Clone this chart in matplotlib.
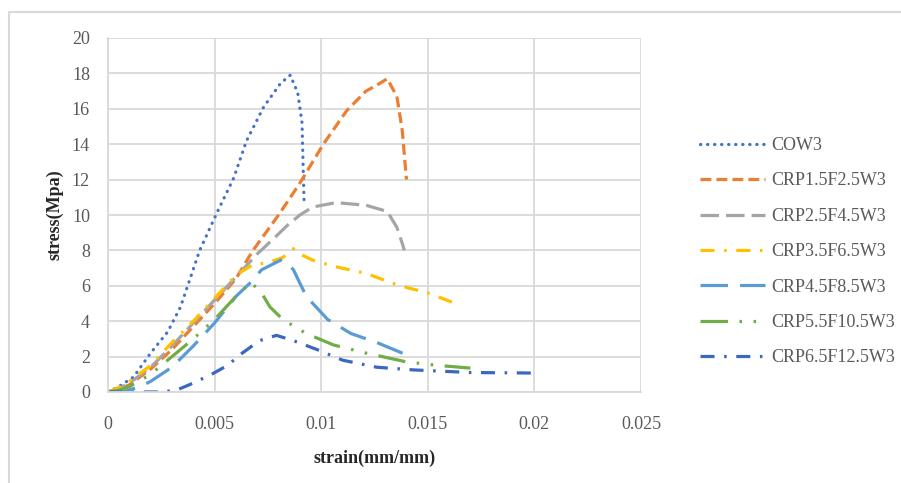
import matplotlib
matplotlib.use("Agg")
import matplotlib.pyplot as plt
from matplotlib.lines import Line2D

labels = ["COW3", "CRP1.5F2.5W3", "CRP2.5F4.5W3", "CRP3.5F6.5W3",
          "CRP4.5F8.5W3", "CRP5.5F10.5W3", "CRP6.5F12.5W3"]

cow3_x = [0, 0.0005, 0.0012, 0.002, 0.0028, 0.0034, 0.0043, 0.0051, 0.0059, 0.0065,
          0.0073, 0.0081, 0.00855, 0.0089, 0.0091, 0.00915, 0.0092]
cow3_y = [0, 0.3, 0.85, 2.2, 3.4, 4.8, 8.0, 10.1, 12.1, 14.2,
          16.1, 17.45, 17.9, 16.9, 15.2, 12.9, 10.6]

crp1_x = [0, 0.0005, 0.001, 0.002, 0.003, 0.004, 0.005, 0.006, 0.0068, 0.008, 0.009,
          0.0101, 0.0112, 0.0121, 0.0127, 0.0131, 0.01355, 0.0138, 0.014]
crp1_y = [0, 0.15, 0.4, 1.3, 2.4, 3.7, 5.0, 6.4, 8.0, 10.0, 11.8,
          14.0, 15.9, 17.0, 17.4, 17.7, 16.7, 14.8, 12.0]

crp2_x = [0, 0.0005, 0.001, 0.002, 0.003, 0.004, 0.005, 0.006, 0.007, 0.0078, 0.0084,
          0.009, 0.0096, 0.0107, 0.0121, 0.0131, 0.01355, 0.0138, 0.0139]
crp2_y = [0, 0.2, 0.5, 1.4, 2.6, 3.9, 5.2, 6.5, 7.8, 8.7, 9.4,
          10.0, 10.45, 10.7, 10.55, 10.2, 9.3, 8.4, 8.0]

crp3_x = [0, 0.0005, 0.001, 0.002, 0.003, 0.004, 0.005, 0.006, 0.0068, 0.0075, 0.0082,
          0.0087, 0.009, 0.0096, 0.0106, 0.0121, 0.0137, 0.015, 0.0163]
crp3_y = [0, 0.25, 0.6, 1.5, 2.8, 4.0, 5.3, 6.6, 7.2, 7.3, 7.6,
          8.1, 7.8, 7.45, 7.1, 6.7, 6.0, 5.6, 5.0]

crp4_x = [0, 0.0008, 0.0015, 0.002, 0.003, 0.004, 0.005, 0.006, 0.0067, 0.0072, 0.0081,
          0.0084, 0.0087, 0.0093, 0.0103, 0.0114, 0.0126, 0.0138, 0.0141]
crp4_y = [0, 0.05, 0.3, 0.6, 1.4, 2.6, 3.9, 5.4, 6.2, 6.9, 7.45,
          7.3, 6.9, 5.4, 4.1, 3.3, 2.8, 2.2, 2.05]

crp5_x = [0, 0.0005, 0.001, 0.002, 0.003, 0.004, 0.005, 0.006, 0.0067, 0.0072, 0.0076,
          0.0082, 0.0093, 0.0106, 0.0121, 0.014, 0.0155, 0.017]
crp5_y = [0, 0.1, 0.3, 1.0, 2.0, 3.0, 4.1, 5.4, 6.2, 5.6, 4.8,
          4.1, 3.3, 2.65, 2.2, 1.7, 1.5, 1.35]

crp6_x = [0, 0.001, 0.0018, 0.0025, 0.0032, 0.0038, 0.0048, 0.0056, 0.0063, 0.0071,
          0.0079, 0.0087, 0.0098, 0.011, 0.0126, 0.0143, 0.017, 0.0201]
crp6_y = [0, 0, 0, 0, 0.1, 0.4, 0.96, 1.5, 2.2, 2.9,
          3.2, 2.9, 2.4, 1.8, 1.4, 1.25, 1.1, 1.07]

x_ticks = [0, 0.005, 0.01, 0.015, 0.02, 0.025]
x_tick_labels = ["0", "0.005", "0.01", "0.015", "0.02", "0.025"]
y_ticks = [0, 2, 4, 6, 8, 10, 12, 14, 16, 18, 20]

series = [(cow3_x, cow3_y), (crp1_x, crp1_y), (crp2_x, crp2_y), (crp3_x, crp3_y),
          (crp4_x, crp4_y), (crp5_x, crp5_y), (crp6_x, crp6_y)]
colors = ["#4472C4", "#ED7D31", "#A5A5A5", "#FFC000", "#5B9BD5", "#70AD47", "#3A68C0"]
dashes = [(0.1, 2.1), (3.4, 1.6), (5.8, 2.2), (4.4, 3.0, 0.8, 3.0),
          (8.6, 3.8), (8.6, 3.6, 0.8, 3.6, 0.8, 3.6), (4.4, 3.0, 0.8, 3.0)]
caps = ["round", "butt", "butt", "butt", "butt", "butt", "butt"]

FONT = "Liberation Serif"
GRAY = "#595959"

fig = plt.figure(figsize=(9.01, 4.83), dpi=100)
ax = fig.add_axes([108/901, 1-392/483, (641-108)/901, (392-38)/483])

for (xs, ys), c, d, cap, lab in zip(series, colors, dashes, caps, labels):
    ax.plot(xs, ys, color=c, lw=2.3, linestyle=(0, d), dash_capstyle=cap, label=lab)

ax.set_xlim(0, 0.025)
ax.set_ylim(0, 20)
ax.set_xticks(x_ticks)
ax.set_xticklabels(x_tick_labels)
ax.set_yticks(y_ticks)
ax.grid(True, color="#D9D9D9", lw=1.3)
ax.set_axisbelow(True)
for s in ["top", "right"]:
    ax.spines[s].set_visible(False)
for s in ["left", "bottom"]:
    ax.spines[s].set_color("#D9D9D9")
    ax.spines[s].set_linewidth(1.3)
ax.tick_params(length=0, labelcolor=GRAY, labelsize=13)
ax.tick_params(axis="x", pad=17)
ax.tick_params(axis="y", pad=13)
for t in ax.get_xticklabels() + ax.get_yticklabels():
    t.set_fontfamily(FONT)

ax.set_xlabel("strain(mm/mm)", fontfamily=FONT, fontweight="bold", fontsize=13,
              color="#262626", labelpad=12)
ax.set_ylabel("stress(Mpa)", fontfamily=FONT, fontweight="bold", fontsize=13,
              color="#262626", labelpad=6)

leg = fig.legend(loc="upper left", bbox_to_anchor=(700/901, 1-137/483),
                 frameon=False, prop={"family": FONT, "size": 13},
                 handlelength=3.6, handletextpad=0.35, labelspacing=1.02,
                 borderpad=0, borderaxespad=0)
for t in leg.get_texts():
    t.set_color(GRAY)

# outer frame
fig.add_artist(Line2D([9/901, 9/901, 1.0], [0.0, 1-12/483, 1-12/483],
                      transform=fig.transFigure, color="#D9D9D9", lw=1.5))

fig.savefig("out.png", dpi=100)
